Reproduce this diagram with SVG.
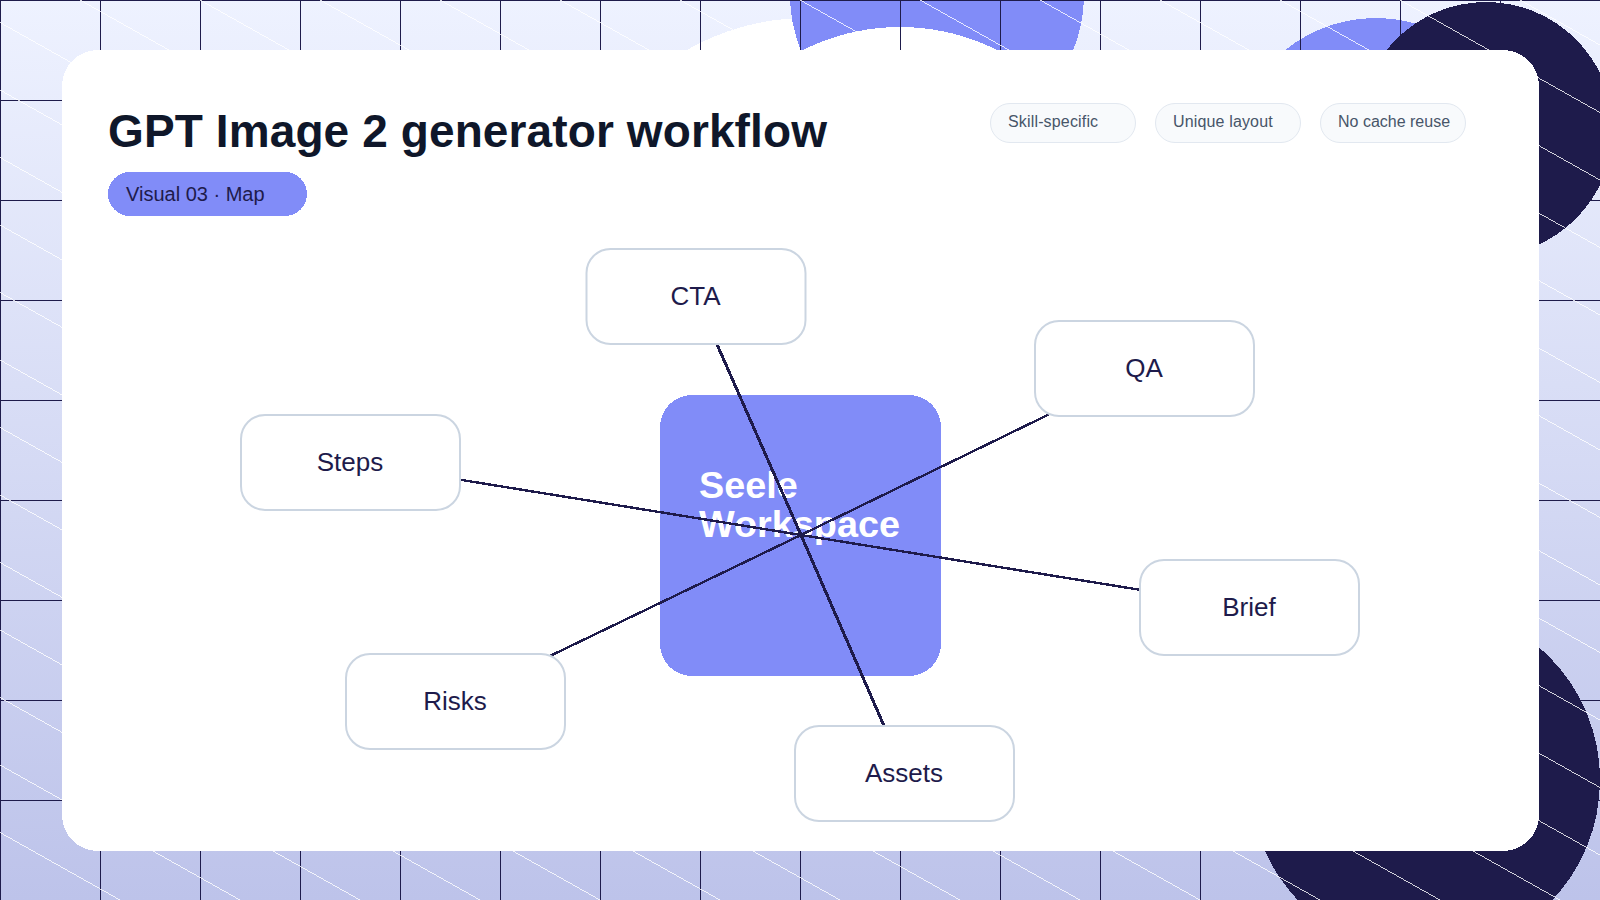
<svg xmlns="http://www.w3.org/2000/svg" width="1600" height="900" viewBox="0 0 1600 900">
<style>
text{font-family:"Liberation Sans",Arial,sans-serif}
.crisp{shape-rendering:crispEdges}
.grid{stroke:#1e1b4b;stroke-width:1;fill:none;shape-rendering:crispEdges}
.diag{stroke:#fff;stroke-width:.8;fill:none;shape-rendering:crispEdges}
.node rect{fill:#fff;stroke:#cbd5e1;stroke-width:2}
.node text{font-size:26px;fill:#1e1b4b;text-anchor:middle}
.conn line{stroke:#1e1b4b;stroke-width:2.4;shape-rendering:crispEdges}
.conn line.steep{stroke-width:3}
.pill rect{fill:#f8fafc;stroke:#e2e8f0;stroke-width:1}
.pill text{font-size:16px;fill:#475569}
</style>
<defs>
<linearGradient id="bg" x1="0" y1="0" x2="0" y2="1"><stop offset="0" stop-color="#eef2ff"/><stop offset="1" stop-color="#bdc3ea"/></linearGradient>
</defs>
<rect width="1600" height="900" fill="url(#bg)"/>
<g class="crisp">
<circle cx="807" cy="259" r="241" fill="#fff"/>
<circle cx="937" cy="-5" r="147" fill="#818cf8"/>
<circle cx="900" cy="243" r="216" fill="#fff"/>
<circle cx="1376" cy="163" r="145" fill="#818cf8"/>
<circle cx="1486" cy="129" r="127" fill="#1e1b4b"/>
<circle cx="1425" cy="780" r="175" fill="#1e1b4b"/>
</g>
<path class="grid" d="M.5 0V900M100.5 0V900M200.5 0V900M300.5 0V900M400.5 0V900M500.5 0V900M600.5 0V900M700.5 0V900M800.5 0V900M900.5 0V900M1000.5 0V900M1100.5 0V900M1200.5 0V900M1300.5 0V900M1400.5 0V900M1500.5 0V900M0 .5H1600M0 100.5H1600M0 200.5H1600M0 300.5H1600M0 400.5H1600M0 500.5H1600M0 600.5H1600M0 700.5H1600M0 800.5H1600"/>
<path class="diag" d="M-1600 0l1600 900M-1480 0l1600 900M-1360 0l1600 900M-1240 0l1600 900M-1120 0l1600 900M-1000 0l1600 900M-880 0l1600 900M-760 0l1600 900M-640 0l1600 900M-520 0l1600 900M-400 0l1600 900M-280 0l1600 900M-160 0l1600 900M-40 0l1600 900M80 0l1600 900M200 0l1600 900M320 0l1600 900M440 0l1600 900M560 0l1600 900M680 0l1600 900M800 0l1600 900M920 0l1600 900M1040 0l1600 900M1160 0l1600 900M1280 0l1600 900M1400 0l1600 900M1520 0l1600 900"/>
<rect id="card" class="crisp" x="62" y="50" width="1477" height="801" rx="36" fill="#fff"/>
<text x="108" y="147" font-size="46" font-weight="700" letter-spacing=".11" fill="#0f172a">GPT Image 2 generator workflow</text>
<g id="badge"><rect class="crisp" x="108" y="172" width="199" height="44" rx="22" fill="#818cf8"/><text x="126" y="201" font-size="20" fill="#1e1b4b">Visual 03 · Map</text></g>
<g id="pill-skill" class="pill"><rect x="990.5" y="103.5" width="145" height="39" rx="19.5"/><text x="1008" y="127" letter-spacing=".16">Skill-specific</text></g>
<g id="pill-layout" class="pill"><rect x="1155.5" y="103.5" width="145" height="39" rx="19.5"/><text x="1173" y="127" letter-spacing=".15">Unique layout</text></g>
<g id="pill-cache" class="pill"><rect x="1320.5" y="103.5" width="145" height="39" rx="19.5"/><text x="1338" y="127">No cache reuse</text></g>
<g id="node-center"><rect class="crisp" x="660" y="395" width="281" height="281" rx="32" fill="#818cf8"/><text x="699" y="498" font-size="37.8" font-weight="700" fill="#fff">Seele</text><text x="699" y="537" font-size="37.8" font-weight="700" fill="#fff">Workspace</text></g>
<g id="connectors" class="conn">
<line class="steep" x1="801" y1="535" x2="695.7" y2="296"/>
<line class="steep" x1="801" y1="535" x2="904.5" y2="773"/>
<line x1="801" y1="535" x2="350.7" y2="462"/>
<line x1="801" y1="535" x2="1249.5" y2="607.5"/>
<line x1="801" y1="535" x2="1144.3" y2="368"/>
<line x1="801" y1="535" x2="455.5" y2="701.5"/>
</g>
<g id="node-cta" class="node"><rect x="586.5" y="249" width="219" height="95" rx="24"/><text x="695.5" y="305">CTA</text></g>
<g id="node-qa" class="node"><rect x="1035" y="321" width="219" height="95" rx="24"/><text x="1144" y="377">QA</text></g>
<g id="node-steps" class="node"><rect x="241" y="415" width="219" height="95" rx="24"/><text x="350" y="471">Steps</text></g>
<g id="node-brief" class="node"><rect x="1140" y="560" width="219" height="95" rx="24"/><text x="1249" y="616">Brief</text></g>
<g id="node-risks" class="node"><rect x="346" y="654" width="219" height="95" rx="24"/><text x="455" y="710">Risks</text></g>
<g id="node-assets" class="node"><rect x="795" y="726" width="219" height="95" rx="24"/><text x="904" y="782">Assets</text></g>
</svg>
